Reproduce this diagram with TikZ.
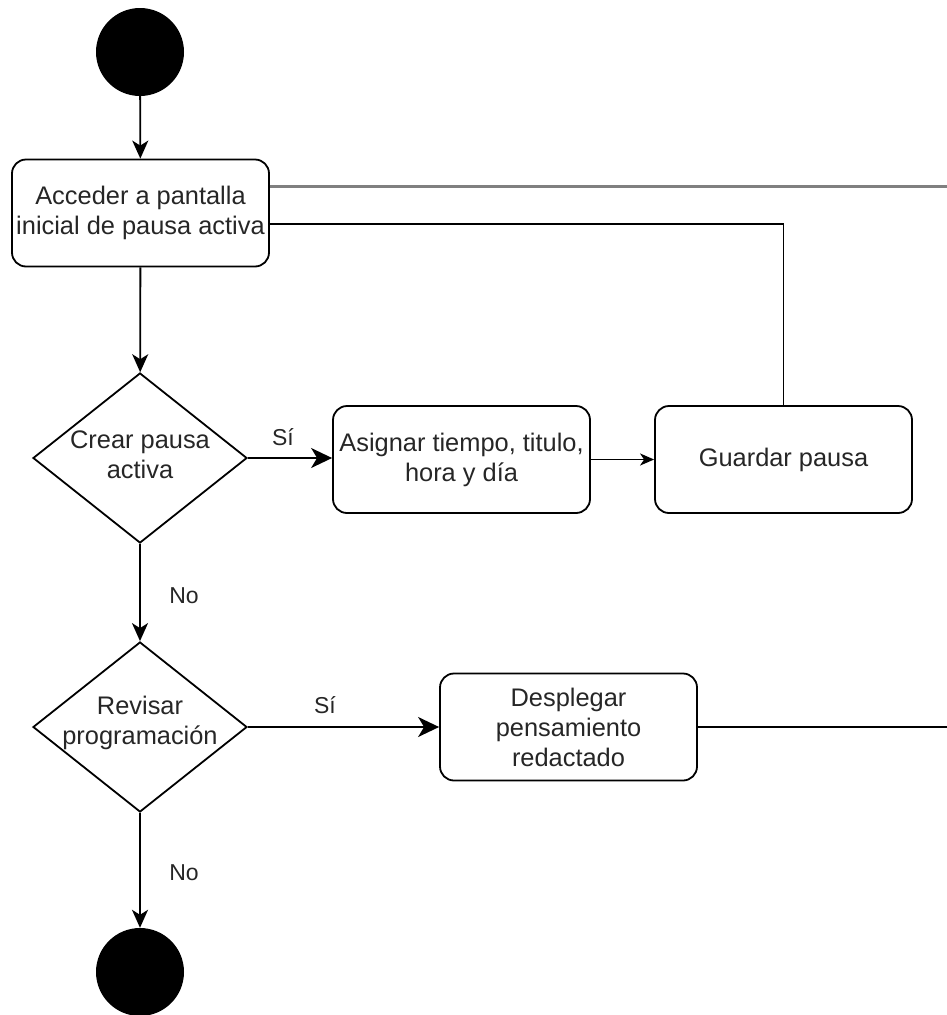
\documentclass[tikz,border=0pt]{standalone}
\usepackage{fontspec}
\setmainfont{Liberation Sans}
\usetikzlibrary{shapes.geometric,arrows.meta,calc}
\begin{document}
\begin{tikzpicture}[x=1pt,y=-1pt,
  every node/.style={font=\fontsize{25.4}{30}\selectfont, text=black!85},
  act/.style={draw, line width=1.8pt, rounded corners=14pt, minimum width=257pt,
    minimum height=107pt, inner sep=0pt, align=center},
  decision/.style={draw, diamond, line width=1.8pt, minimum width=214pt,
    minimum height=170pt, inner sep=0pt},
  endpoint/.style={circle, fill=black, minimum size=88pt, inner sep=0pt},
  flow/.style={line width=1.8pt, -{Stealth[length=18pt,width=16pt,inset=5pt]}},
  bigflow/.style={line width=1.8pt, -{Stealth[length=21pt,width=20pt,inset=6pt]}},
  smallflow/.style={line width=1.8pt, -{Stealth[length=14pt,width=12pt,inset=4pt]}},
  link/.style={line width=1.8pt},
  tag/.style={font=\fontsize{23}{27}\selectfont}
]
\useasboundingbox (0,0) rectangle (947,1015);
\clip (0,0) rectangle (947,1015);

% nodes
\node[endpoint] (start) at (140,52) {};
\node[act] (acc) at (140.5,213) {Acceder a pantalla\\inicial de pausa activa};
\node[decision, label={[align=center,yshift=3pt]center:Crear pausa\\activa}] (d1) at (140,458) {};
\node[act] (asig) at (461.5,459.5) {Asignar tiempo, titulo,\\hora y día};
\node[act] (guard) at (783.5,459.5) {Guardar pausa};
\node[decision, label={[align=center,yshift=4pt]center:Revisar\\programación}] (d2) at (140,727) {};
\node[act] (desp) at (568.5,727) {Desplegar\\pensamiento\\redactado};
\node[endpoint] (end) at (140,972) {};

% free ends leaving the sheet on the right
\coordinate (outA) at (952,186);
\coordinate (outB) at (952,727);

% connectors
\draw[flow] (start) -- (acc);
\draw[flow] (acc) -- (d1);
\draw[bigflow] (d1.east) -- (d1.east -| asig.west);
\draw[smallflow] (asig) -- (guard);
\draw[link] (guard.north) |- ([yshift=-11pt]acc.east);
\draw[line width=3pt, black!50] ([yshift=27pt]acc.east) -- (outA);
\draw[flow] (d1) -- (d2);
\draw[bigflow] (d2.east) -- (d2.east -| desp.west);
\draw[link] (desp.east) -- (outB);
\draw[flow] (d2) -- (end);

% branch labels
\node[tag] (si1) at (283,437) {Sí};
\node[tag] (no1) at (184,596) {No};
\node[tag] (si2) at (325,705) {Sí};
\node[tag] (no2) at (184,873) {No};
\end{tikzpicture}
\end{document}
